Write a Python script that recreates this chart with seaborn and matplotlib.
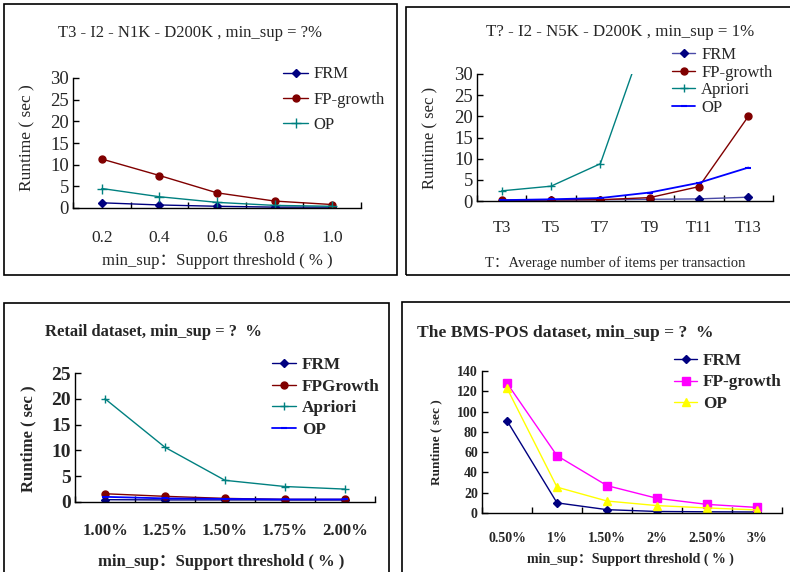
import numpy as np
import matplotlib
matplotlib.use("Agg")
import matplotlib.pyplot as plt
from matplotlib.patches import Rectangle
import seaborn as sns

# ---------------- data ----------------
p1_cats = ['0.2', '0.4', '0.6', '0.8', '1.0']
p1_frm = [1.2, 0.7, 0.4, 0.2, 0.2]
p1_fp = [11.3, 7.5, 3.5, 1.6, 0.8]
p1_op = [4.5, 2.6, 1.3, 0.6, 0.4]

p2_cats = ['T3', 'T5', 'T7', 'T9', 'T11', 'T13']
p2_frm = [0.1, 0.2, 0.3, 0.4, 0.5, 0.9]
p2_fp = [0.2, 0.3, 0.3, 0.8, 3.4, 20.0]
p2_apriori = [2.4, 3.5, 8.8, 42.0, np.nan, np.nan]
p2_op = [0.2, 0.4, 0.7, 2.0, 4.3, 7.9]

p3_cats = ['1.00%', '1.25%', '1.50%', '1.75%', '2.00%']
p3_frm = [0.45, 0.4, 0.4, 0.4, 0.4]
p3_fp = [1.6, 1.1, 0.7, 0.5, 0.5]
p3_apriori = [20.0, 10.6, 4.2, 3.0, 2.5]
p3_op = [1.0, 0.7, 0.6, 0.5, 0.5]

p4_cats = ['0.50%', '1%', '1.50%', '2%', '2.50%', '3%']
p4_frm = [91, 10, 3.3, 1.5, 1.2, 1.0]
p4_fp = [128, 56.5, 27, 14.5, 8.5, 5.5]
p4_op = [123, 25.5, 11.8, 7.3, 5.0, 3.0]

# ---------------- style ----------------
sns.set_theme(style="white")
SERIF = ['Liberation Serif', 'Noto Sans CJK SC', 'DejaVu Sans']
plt.rcParams['font.family'] = SERIF
plt.rcParams['axes.unicode_minus'] = False

NAVY = '#000080'
DRED = '#800000'
TEAL = '#008080'
BLUE = '#0000FF'
MAG = '#FF00FF'
YEL = '#FFFF00'

W, H = 790, 572
fig = plt.figure(figsize=(W / 100, H / 100), dpi=100)
fig.patch.set_facecolor('white')


def rect(l, t, r, b):
    return [l / W, 1 - b / H, (r - l) / W, (b - t) / H]


def frame(l, t, r, b):
    fig.patches.append(Rectangle((l / W, 1 - b / H), (r - l) / W, (b - t) / H,
                                 transform=fig.transFigure, fill=False,
                                 edgecolor='black', linewidth=1.2))


def axc(px, py, box):
    l, t, r, b = box
    return (px - l) / (r - l), (b - py) / (b - t)


def setup(ax, box, cats, ymax, ystep, ytick_fs, xtick_fs, xpad, weight):
    n = len(cats)
    ax.set_xlim(-0.5, n - 0.5)
    ax.set_ylim(0, ymax)
    for s in ['top', 'right']:
        ax.spines[s].set_visible(False)
    for s in ['left', 'bottom']:
        ax.spines[s].set_color('black')
        ax.spines[s].set_linewidth(1.0)
    ax.set_yticks(np.arange(0, ymax + 0.01, ystep))
    ax.set_xticks(np.arange(n + 1) - 0.5)
    ax.set_xticklabels([''] * (n + 1))
    ax.set_xticks(np.arange(n), labels=cats, minor=True)
    ax.tick_params(axis='y', direction='in', length=4, width=1, color='black',
                   labelsize=ytick_fs, pad=3, left=True)
    ax.tick_params(axis='x', which='major', direction='in', length=4, width=1,
                   color='black', bottom=True)
    ax.tick_params(axis='x', which='minor', length=0, labelsize=xtick_fs, pad=xpad,
                   bottom=True)
    for lab in ax.get_yticklabels() + ax.get_xticklabels(minor=True):
        lab.set_fontweight(weight)
    ax.grid(False)
    ax.set_facecolor('white')


def series(ax, cats, vals, color, marker, label, ms=5, lw=1.0, mew=1.0, lc=None):
    sns.lineplot(x=np.arange(len(cats)), y=vals, ax=ax, color=lc or color,
                 marker=marker, markersize=ms, markerfacecolor=color,
                 markeredgecolor=color, markeredgewidth=mew, linewidth=lw,
                 label=label)


def labels(ax, box, title, tpos, tha, tfs, xl, xpos, xfs, yl, ypos, yfs, weight):
    tx, ty = axc(tpos[0], tpos[1], box)
    ax.set_title(title, x=tx, y=ty, ha=tha, va='center', fontsize=tfs,
                 fontweight=weight, pad=0)
    ax.set_xlabel(xl, fontsize=xfs, fontweight=weight)
    ax.xaxis.set_label_coords(*axc(xpos[0], xpos[1], box))
    ax.xaxis.label.set_va('center')
    ax.set_ylabel(yl, fontsize=yfs, fontweight=weight)
    ax.yaxis.set_label_coords(*axc(ypos[0], ypos[1], box))
    ax.yaxis.label.set_va('center')


def legend(ax, box, pos, fs, spacing, weight, hl=1.5):
    lx, ly = axc(pos[0], pos[1], box)
    leg = ax.legend(loc='center left', bbox_to_anchor=(lx, ly), frameon=False,
                    borderpad=0, borderaxespad=0, handlelength=hl,
                    handletextpad=0.35, labelspacing=spacing,
                    prop={'family': SERIF, 'size': fs, 'weight': weight})
    return leg


# ---------------- frames ----------------
frame(4, 4, 397, 275)
frame(406, 7, 795, 275)
frame(4, 303, 389, 580)
frame(402, 302, 795, 580)

# ---------------- panel 1 ----------------
b1 = (73, 78, 361, 208)
ax1 = fig.add_axes(rect(*b1))
series(ax1, p1_cats, p1_frm, NAVY, 'D', 'FRM', ms=4.5)
series(ax1, p1_cats, p1_fp, DRED, 'o', 'FP-growth', ms=5)
series(ax1, p1_cats, p1_op, TEAL, '+', 'OP', ms=7)
setup(ax1, b1, p1_cats, 30, 5, 13.5, 12.5, 16, 'normal')
labels(ax1, b1, 'T3 - I2 - N1K - D200K , min_sup = ?%', (190, 33), 'center', 12,
       'min_sup：Support threshold ( % )', (217, 261), 12,
       'Runtime ( sec )', (27, 138), 12.5, 'normal')
legend(ax1, b1, (283, 99.5), 12, 0.55, 'normal')

# ---------------- panel 2 ----------------
b2 = (477, 74, 773, 201)
ax2 = fig.add_axes(rect(*b2))
series(ax2, p2_cats, p2_frm, NAVY, 'D', 'FRM', ms=4, lc='#4a4aa8')
series(ax2, p2_cats, p2_fp, DRED, 'o', 'FP-growth', ms=5)
series(ax2, p2_cats, p2_apriori, TEAL, '+', 'Apriori', ms=6)
series(ax2, p2_cats, p2_op, BLUE, '_', 'OP', ms=4, lw=1.3, mew=1.5)
setup(ax2, b2, p2_cats, 30, 5, 13.5, 12, 14, 'normal')
labels(ax2, b2, 'T? - I2 - N5K - D200K , min_sup = 1%', (620, 32), 'center', 12.2,
       'T：Average number of items per transaction', (615, 263), 10.5,
       'Runtime ( sec )', (430, 138), 12, 'normal')
legend(ax2, b2, (672, 81.5), 12, 0.09, 'normal', hl=1.4)

# ---------------- panel 3 ----------------
b3 = (75, 373, 375, 502)
ax3 = fig.add_axes(rect(*b3))
series(ax3, p3_cats, p3_frm, NAVY, 'D', 'FRM', ms=4.5)
series(ax3, p3_cats, p3_fp, DRED, 'o', 'FPGrowth', ms=5)
series(ax3, p3_cats, p3_apriori, TEAL, '+', 'Apriori', ms=6)
series(ax3, p3_cats, p3_op, BLUE, '_', 'OP', ms=4, lw=1.3, mew=1.5)
setup(ax3, b3, p3_cats, 25, 5, 14, 12, 15, 'bold')
labels(ax3, b3, 'Retail dataset, min_sup = ?  %', (45, 332), 'left', 12,
       'min_sup：Support threshold ( % )', (221, 562), 12,
       'Runtime ( sec )', (28, 439), 12, 'bold')
legend(ax3, b3, (272, 397.5), 12.3, 0.32, 'bold', hl=1.4)

# ---------------- panel 4 ----------------
b4 = (482, 371, 782, 513)
ax4 = fig.add_axes(rect(*b4))
series(ax4, p4_cats, p4_frm, NAVY, 'D', 'FRM', ms=4.5)
series(ax4, p4_cats, p4_fp, MAG, 's', 'FP-growth', ms=6)
series(ax4, p4_cats, p4_op, YEL, '^', 'OP', ms=6)
setup(ax4, b4, p4_cats, 140, 20, 10, 10, 13.5, 'bold')
labels(ax4, b4, 'The BMS-POS dataset, min_sup = ?  %', (417, 333), 'left', 12.6,
       'min_sup：Support threshold ( % )', (630, 559), 10,
       'Runtime ( sec )', (436, 442), 9.5, 'bold')
legend(ax4, b4, (674, 382.5), 12.3, 0.32, 'bold', hl=1.35)

fig.savefig('out.png', dpi=100, facecolor='white')
